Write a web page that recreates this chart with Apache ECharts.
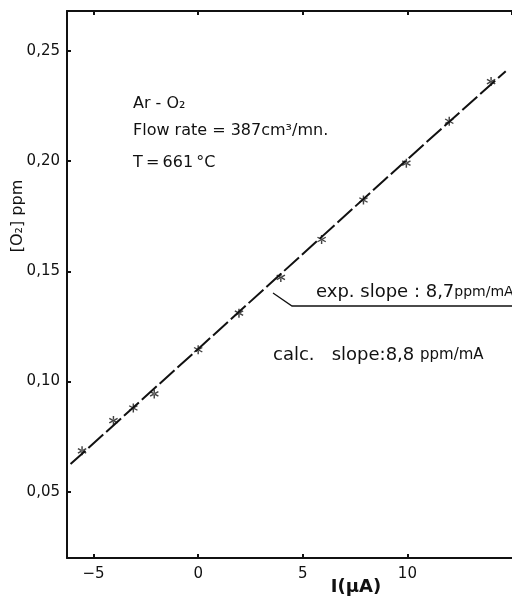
<!DOCTYPE html>
<html>
<head>
<meta charset="utf-8">
<script src="https://cdn.jsdelivr.net/npm/echarts@6/dist/echarts.min.js"></script>
<style>
  html, body { margin: 0; padding: 0; background: #fff; }
  #chart { width: 512px; height: 597px; }
</style>
</head>
<body>
<div id="chart"></div>
<script>
// measured points (current in µA, O2 in ppm)
const currentUA = [-5.55, -4.05, -3.1, -2.1, 0, 1.95, 3.95, 5.9, 7.9, 9.95, 12, 14];
const o2ppm = [0.0686, 0.0823, 0.088, 0.0944, 0.1144, 0.131, 0.1472, 0.1644, 0.1823, 0.199, 0.218, 0.236];

// drawn line
const lineX = [-6.1, 0, 8.9, 14.7];
const lineY = [0.0626, 0.1148, 0.1914, 0.2407];

const textColor = '#111';
const font = 'DejaVu Sans';

const star = 'path://M8.5,0L11.5,0L11.5,20L8.5,20Z M0.59,6.3L17.91,16.3L19.41,13.7L2.09,3.7Z M2.09,16.3L19.41,6.3L17.91,3.7L0.59,13.7Z';

const pts = currentUA.map((x, i) => [x, o2ppm[i]]);
const fit = lineX.map((x, i) => [x, lineY[i]]);

const chart = echarts.init(document.getElementById('chart'));

const option = {
    backgroundColor: '#fff',
    animation: false,
    grid: { left: 67, right: -7, top: 11, bottom: 39 },
    xAxis: [
        {
            type: 'value',
            min: -6.27,
            max: 15,
            position: 'bottom',
            splitLine: { show: false },
            axisLine: { onZero: false, lineStyle: { color: textColor, width: 2 } },
            axisTick: { inside: true, length: 4, lineStyle: { color: textColor, width: 2 } },
            axisLabel: {
                showMinLabel: false,
                showMaxLabel: false,
                color: textColor,
                fontFamily: font,
                fontSize: 15,
                margin: 9,
                formatter: v => (v < 0 ? '\u2212' + Math.abs(v) : String(v))
            }
        },
        {
            type: 'value',
            min: -6.27,
            max: 15,
            position: 'top',
            splitLine: { show: false },
            axisLine: { onZero: false, lineStyle: { color: textColor, width: 2 } },
            axisTick: { inside: true, length: 4, lineStyle: { color: textColor, width: 2 } },
            axisLabel: { show: false }
        }
    ],
    yAxis: {
        type: 'value',
        min: 0.02,
        max: 0.268,
        splitLine: { show: false },
        axisLine: { onZero: false, lineStyle: { color: textColor, width: 2 } },
        axisTick: { inside: true, length: 4, lineStyle: { color: textColor, width: 2 } },
        axisLabel: {
            showMinLabel: false,
            showMaxLabel: false,
            color: textColor,
            fontFamily: font,
            fontSize: 15,
            margin: 7,
            formatter: v => v.toFixed(2).replace('.', ',')
        }
    },
    series: [
        {
            type: 'line',
            data: fit,
            showSymbol: false,
            lineStyle: { color: textColor, width: 2, type: [20, 4] },
            z: 2
        },
        {
            type: 'scatter',
            data: pts,
            symbol: star,
            symbolSize: 9,
            itemStyle: { color: textColor },
            z: 3
        }
    ],
    graphic: [
        {
            type: 'text', x: 133, y: 103.5,
            style: { text: 'Ar - O\u2082', fill: textColor, font: '16px "DejaVu Sans"', textVerticalAlign: 'middle' }
        },
        {
            type: 'text', x: 133, y: 131,
            style: { text: 'Flow rate = 387cm\u00b3/mn.', fill: textColor, font: '16px "DejaVu Sans"', textVerticalAlign: 'middle' }
        },
        {
            type: 'text', x: 133, y: 162.5,
            style: { text: 'T\u2009=\u2009661\u2009\u00b0C', fill: textColor, font: '16px "DejaVu Sans"', textVerticalAlign: 'middle' }
        },
        {
            type: 'text', x: 316, y: 292,
            style: {
                text: '{a|exp. slope : 8,7}{b|ppm/mA}',
                fill: textColor,
                textVerticalAlign: 'middle',
                rich: {
                    a: { fontFamily: font, fontSize: 18, fill: textColor },
                    b: { fontFamily: font, fontSize: 14, fill: textColor }
                }
            }
        },
        {
            type: 'text', x: 273, y: 355,
            style: {
                text: '{a|calc.   slope:8,8 }{b|ppm/mA}',
                fill: textColor,
                textVerticalAlign: 'middle',
                rich: {
                    a: { fontFamily: font, fontSize: 18, fill: textColor },
                    b: { fontFamily: font, fontSize: 15, fill: textColor }
                }
            }
        },
        {
            type: 'polyline',
            shape: { points: [[273, 293], [292, 306], [512, 306]] },
            style: { stroke: textColor, lineWidth: 1.3, fill: null }
        },
        {
            type: 'text', x: 356, y: 587,
            style: { text: 'I(\u03bcA)', fill: textColor, font: 'bold 18px "DejaVu Sans"', textAlign: 'center', textVerticalAlign: 'middle' }
        },
        {
            type: 'text', x: 18, y: 216, rotation: Math.PI / 2,
            style: { text: '[O\u2082] ppm', fill: textColor, font: '16px "DejaVu Sans"', textAlign: 'center', textVerticalAlign: 'middle' }
        }
    ]
};

chart.setOption(option);
</script>
</body>
</html>
